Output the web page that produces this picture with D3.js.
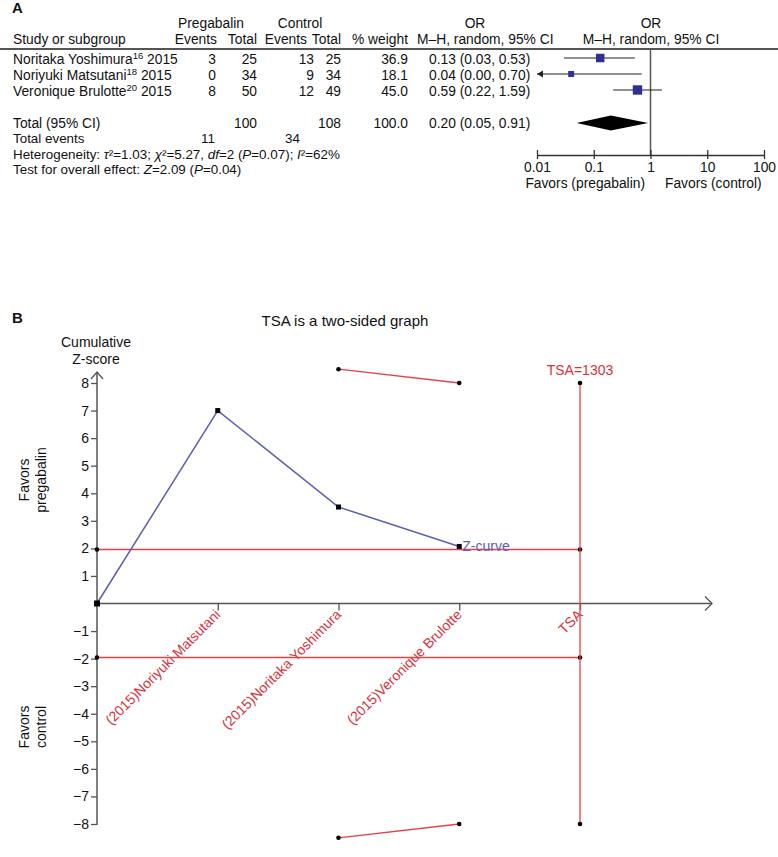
<!DOCTYPE html>
<html><head><meta charset="utf-8">
<script src="https://cdn.jsdelivr.net/npm/d3@7"></script>
<style>body{margin:0;background:#fff} svg{display:block;font-family:"Liberation Sans",Arial,sans-serif}</style>
</head><body><svg id="c" width="778" height="857"></svg>
<script>
// ---------- Panel A data ----------
const studies = ["Noritaka Yoshimura", "Noriyuki Matsutani", "Veronique Brulotte"];
const refs = ["16", "18", "20"];
const years = ["2015", "2015", "2015"];
const pregEvents = [3, 0, 8];
const pregTotal = [25, 34, 50];
const ctrlEvents = [13, 9, 12];
const ctrlTotal = [25, 34, 49];
const weights = [36.9, 18.1, 45.0];
const orEst = [0.13, 0.04, 0.59];
const orLow = [0.03, 0.00, 0.22];
const orHigh = [0.53, 0.70, 1.59];
const pooledOR = [0.20, 0.05, 0.91];          // estimate, low, high
const pooledTotals = [100, 108, 100.0];        // pregabalin total, control total, weight
const totalEvents = [11, 34];
const forestTicks = [0.01, 0.1, 1, 10, 100];
const heterogeneity = [["Heterogeneity: ", false], ["τ", true], ["²=1.03; ", false], ["χ", true], ["²=5.27, ", false], ["df", true], ["=2 (", false], ["P", true], ["=0.07); ", false], ["I", true], ["²=62%", false]];
const overall = [["Test for overall effect: ", false], ["Z", true], ["=2.09 (", false], ["P", true], ["=0.04)", false]];

// ---------- Panel B data ----------
const tsaLabels = ["(2015)Noriyuki Matsutani", "(2015)Noritaka Yoshimura", "(2015)Veronique Brulotte", "TSA"];
const zCurve = [0, 7.0, 3.5, 2.07];           // cumulative Z at positions 0..3
const upperBoundary = [8.5, 8.0];             // at positions 2, 3
const lowerBoundary = [-8.5, -8.0];
const boundaryPos = [2, 3];
const conventional = 1.96;
const tsaSize = 1303;
const yTickValues = [8, 7, 6, 5, 4, 3, 2, 1, -1, -2, -3, -4, -5, -6, -7, -8];

const svg = d3.select("#c");
const RED = "#e2424a", REDTXT = "#d8313b", BLUE = "#5b5fae", GRAY = "#555";
const FONT = "Liberation Sans, Arial, sans-serif";

// =============== PANEL A ===============
const A = svg.append("g").style("font-size", "13.8px").attr("fill", "#111");
A.append("text").attr("x", 12).attr("y", 13).style("font-weight", "bold").style("font-size", "15px").text("A");

// headers
const h1 = 28, h2 = 44;
A.append("text").attr("x", 211).attr("y", h1).attr("text-anchor", "middle").text("Pregabalin");
A.append("text").attr("x", 300).attr("y", h1).attr("text-anchor", "middle").text("Control");
A.append("text").attr("x", 475).attr("y", h1).attr("text-anchor", "middle").text("OR");
A.append("text").attr("x", 651).attr("y", h1).attr("text-anchor", "middle").text("OR");
A.append("text").attr("x", 13).attr("y", h2).text("Study or subgroup");
[["Events", 217], ["Total", 257], ["Events", 307], ["Total", 341], ["% weight", 408]].forEach(([t, x]) =>
  A.append("text").attr("x", x).attr("y", h2).attr("text-anchor", "end").text(t));
A.append("text").attr("x", 417).attr("y", h2).text("M–H, random, 95% CI");
A.append("text").attr("x", 651).attr("y", h2).attr("text-anchor", "middle").text("M–H, random, 95% CI");
A.append("line").attr("x1", 0).attr("x2", 778).attr("y1", 49).attr("y2", 49).attr("stroke", GRAY).attr("stroke-width", 2);

const rowY = [64, 80, 96];
const fmt1 = d3.format(".1f"), fmt2 = d3.format(".2f");
studies.forEach((s, i) => {
  const t = A.append("text").attr("x", 13).attr("y", rowY[i]);
  t.append("tspan").text(s);
  t.append("tspan").attr("dy", -5).style("font-size", "9.5px").text(refs[i]);
  t.append("tspan").attr("dy", 5).text(" " + years[i]);
  A.append("text").attr("x", 216).attr("y", rowY[i]).attr("text-anchor", "end").text(pregEvents[i]);
  A.append("text").attr("x", 257).attr("y", rowY[i]).attr("text-anchor", "end").text(pregTotal[i]);
  A.append("text").attr("x", 314).attr("y", rowY[i]).attr("text-anchor", "end").text(ctrlEvents[i]);
  A.append("text").attr("x", 341).attr("y", rowY[i]).attr("text-anchor", "end").text(ctrlTotal[i]);
  A.append("text").attr("x", 408).attr("y", rowY[i]).attr("text-anchor", "end").text(fmt1(weights[i]));
  A.append("text").attr("x", 429).attr("y", rowY[i]).text(`${fmt2(orEst[i])} (${fmt2(orLow[i])}, ${fmt2(orHigh[i])})`);
});
const tY = 128;
A.append("text").attr("x", 13).attr("y", tY).text("Total (95% CI)");
A.append("text").attr("x", 257).attr("y", tY).attr("text-anchor", "end").text(pooledTotals[0]);
A.append("text").attr("x", 341).attr("y", tY).attr("text-anchor", "end").text(pooledTotals[1]);
A.append("text").attr("x", 408).attr("y", tY).attr("text-anchor", "end").text(fmt1(pooledTotals[2]));
A.append("text").attr("x", 429).attr("y", tY).text(`${fmt2(pooledOR[0])} (${fmt2(pooledOR[1])}, ${fmt2(pooledOR[2])})`);
const small = "13.4px";
A.append("text").attr("x", 13).attr("y", 143.3).style("font-size", small).text("Total events");
A.append("text").attr("x", 215).attr("y", 143.3).style("font-size", small).attr("text-anchor", "end").text(totalEvents[0]);
A.append("text").attr("x", 300).attr("y", 143.3).style("font-size", small).attr("text-anchor", "end").text(totalEvents[1]);
function segText(y, segs) {
  const t = A.append("text").attr("x", 13).attr("y", y).style("font-size", small);
  segs.forEach(([s, it]) => t.append("tspan").style("font-style", it ? "italic" : "normal").text(s));
}
segText(158.6, heterogeneity);
segText(174, overall);

// forest plot
const fx = d3.scaleLog().domain([0.01, 100]).range([537, 764]);
const axY = 155;
A.append("line").attr("x1", fx(1)).attr("x2", fx(1)).attr("y1", 49).attr("y2", axY).attr("stroke", GRAY).attr("stroke-width", 1.5);
const fAxis = A.append("g").attr("transform", `translate(0,${axY})`)
  .call(d3.axisBottom(fx).tickValues(forestTicks).tickFormat(d => String(d)).tickSizeOuter(0));
fAxis.select(".domain").attr("stroke", "#333").attr("stroke-width", 1.3);
fAxis.selectAll(".tick line").attr("y1", -5).attr("y2", 4).attr("stroke", "#333").attr("stroke-width", 1.3);
fAxis.selectAll(".tick text").attr("y", 17).attr("dy", 0).style("font-size", "13.8px").attr("fill", "#111")
  .style("font-family", FONT);
A.append("text").attr("x", 645).attr("y", 188).attr("text-anchor", "end").text("Favors (pregabalin)");
A.append("text").attr("x", 665).attr("y", 188).text("Favors (control)");

const markY = [58, 74, 90];
const sz = d3.scaleSqrt().domain([0, 100]).range([0, 14]);
const lo = fx.domain()[0];
studies.forEach((s, i) => {
  const x1 = fx(Math.max(orLow[i], lo)), x2 = fx(orHigh[i]);
  A.append("line").attr("x1", x1).attr("x2", x2).attr("y1", markY[i]).attr("y2", markY[i]).attr("stroke", "#222").attr("stroke-width", 1.2);
  if (orLow[i] < lo) {
    A.append("path").attr("d", `M${x1 + 6},${markY[i] - 3.5}L${x1},${markY[i]}L${x1 + 6},${markY[i] + 3.5}Z`).attr("fill", "#222");
  }
  const w = sz(weights[i]);
  A.append("rect").attr("x", fx(orEst[i]) - w / 2).attr("y", markY[i] - w / 2).attr("width", w).attr("height", w).attr("fill", "#2e3192");
});
const dY = 123, dH = 7.5;
A.append("path").attr("d", `M${fx(pooledOR[1])},${dY}L${fx(pooledOR[0])},${dY - dH}L${fx(pooledOR[2])},${dY}L${fx(pooledOR[0])},${dY + dH}Z`).attr("fill", "#000");

// =============== PANEL B ===============
const B = svg.append("g").style("font-size", "14px").attr("fill", "#111");
B.append("text").attr("x", 12).attr("y", 323).style("font-weight", "bold").style("font-size", "15px").text("B");
B.append("text").attr("x", 345).attr("y", 326).attr("text-anchor", "middle").style("font-size", "15px").text("TSA is a two-sided graph");
B.append("text").attr("x", 96).attr("y", 347).attr("text-anchor", "middle").text("Cumulative");
B.append("text").attr("x", 96).attr("y", 364).attr("text-anchor", "middle").text("Z-score");

const bx = d3.scaleLinear().domain([0, 4]).range([97, 580]);
const by = d3.scaleLinear().domain([-8, 8]).range([824, 383]);

// Y axis
const yAx = B.append("g").attr("transform", `translate(${bx(0)},0)`)
  .call(d3.axisLeft(by).tickValues(yTickValues).tickSize(6).tickSizeOuter(0));
yAx.select(".domain").remove();
yAx.selectAll(".tick line").attr("stroke", GRAY).attr("stroke-width", 1.3);
yAx.selectAll(".tick text").style("font-size", "14px").attr("fill", "#111").attr("x", -8)
  .style("font-family", FONT);
B.append("line").attr("x1", bx(0)).attr("x2", bx(0)).attr("y1", 372).attr("y2", by(-8) + 1).attr("stroke", GRAY).attr("stroke-width", 1.5);
B.append("path").attr("d", `M${bx(0) - 6},${379}L${bx(0)},${372}L${bx(0) + 6},${379}`).attr("fill", "none").attr("stroke", GRAY).attr("stroke-width", 1.3);

// X axis
const x0 = by(0);
B.append("line").attr("x1", bx(0)).attr("x2", 712).attr("y1", x0).attr("y2", x0).attr("stroke", GRAY).attr("stroke-width", 1.5);
B.append("path").attr("d", `M705,${x0 - 7}L712,${x0}L705,${x0 + 7}`).attr("fill", "none").attr("stroke", GRAY).attr("stroke-width", 1.3);
const xAx = B.append("g").attr("transform", `translate(0,${x0})`)
  .call(d3.axisBottom(bx).tickValues([1, 2, 3, 4]).tickSize(7).tickSizeOuter(0).tickFormat((d, i) => tsaLabels[i]));
xAx.select(".domain").remove();
xAx.selectAll(".tick line").attr("stroke", GRAY).attr("stroke-width", 1.3);
xAx.selectAll(".tick text").attr("y", 0).attr("dy", 0).attr("text-anchor", "end")
  .attr("transform", "translate(3,12) rotate(-45)")
  .attr("fill", REDTXT).style("font-size", "14px").style("font-family", FONT);

// conventional boundaries
[conventional, -conventional].forEach(v => {
  B.append("line").attr("x1", bx(0)).attr("x2", bx(4)).attr("y1", by(v)).attr("y2", by(v)).attr("stroke", RED).attr("stroke-width", 1.3);
  [0, 4].forEach(p => B.append("circle").attr("cx", bx(p)).attr("cy", by(v)).attr("r", 2.3).attr("fill", "#000"));
});
// TSA vertical
B.append("line").attr("x1", bx(4)).attr("x2", bx(4)).attr("y1", by(8)).attr("y2", by(-8)).attr("stroke", RED).attr("stroke-width", 1.3);
[8, -8].forEach(v => B.append("circle").attr("cx", bx(4)).attr("cy", by(v)).attr("r", 2.3).attr("fill", "#000"));
B.append("text").attr("x", bx(4)).attr("y", 375).attr("text-anchor", "middle").attr("fill", REDTXT).text("TSA=" + tsaSize);

// monitoring boundaries
[upperBoundary, lowerBoundary].forEach(arr => {
  const pts = arr.map((v, i) => [bx(boundaryPos[i]), by(v)]);
  B.append("path").attr("d", d3.line()(pts)).attr("fill", "none").attr("stroke", RED).attr("stroke-width", 1.3);
  pts.forEach(p => B.append("circle").attr("cx", p[0]).attr("cy", p[1]).attr("r", 2.3).attr("fill", "#000"));
});

// Z-curve
const zPts = zCurve.map((v, i) => [bx(i), by(v)]);
B.append("path").attr("d", d3.line()(zPts)).attr("fill", "none").attr("stroke", BLUE).attr("stroke-width", 1.5);
zPts.forEach((p, i) => {
  const s = i === 0 ? 6 : 5;
  B.append("rect").attr("x", p[0] - s / 2).attr("y", p[1] - s / 2).attr("width", s).attr("height", s).attr("fill", "#000");
});
B.append("text").attr("x", zPts[3][0] + 3).attr("y", zPts[3][1] + 5).attr("fill", BLUE).text("Z-curve");

// side labels
function sideLabel(cy, lines) {
  const g = B.append("g").attr("transform", `translate(33,${cy}) rotate(-90)`);
  lines.forEach((l, i) => g.append("text").attr("x", 0).attr("y", -4 + i * 17).attr("text-anchor", "middle").text(l));
}
sideLabel(480, ["Favors", "pregabalin"]);
sideLabel(727, ["Favors", "control"]);
</script></body></html>
